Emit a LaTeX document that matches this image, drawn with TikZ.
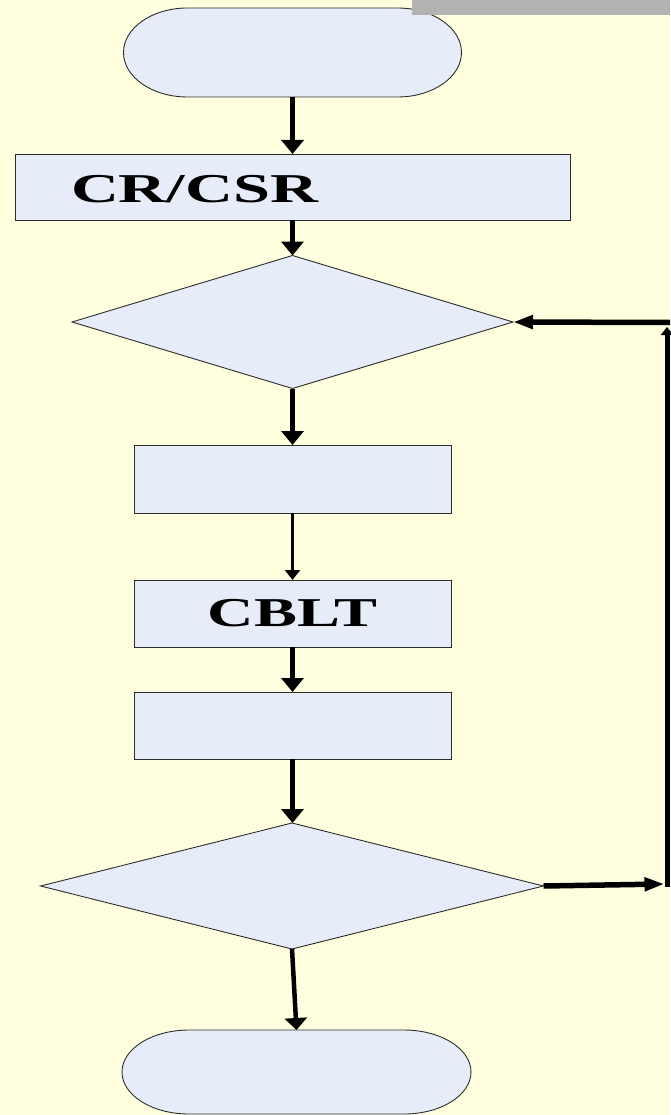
\documentclass[tikz,border=0pt]{standalone}
\usepackage{graphicx}
\usepackage{fontspec}
\setmainfont{Liberation Serif}
\usetikzlibrary{arrows.meta,shapes.geometric}
\definecolor{bgyellow}{RGB}{255,255,224}
\definecolor{boxfill}{RGB}{230,237,248}
\definecolor{edgegray}{RGB}{45,45,45}
\definecolor{tabgray}{RGB}{178,178,178}
\begin{document}
\begin{tikzpicture}[x=1pt,y=-1pt,
  procbox/.style={rectangle,draw=edgegray,fill=boxfill,line width=0.9pt,inner sep=0pt,outer sep=0pt},
  decision/.style={diamond,draw=edgegray,fill=boxfill,line width=0.9pt,inner sep=0pt,outer sep=0pt},
  termbox/.style={rectangle,draw=none,inner sep=0pt,outer sep=0pt},
  termline/.style={draw=edgegray,fill=boxfill,line width=0.9pt},
  bigtext/.style={font=\bfseries\fontsize{41}{41}\selectfont,inner sep=0pt,outer sep=0pt},
  flowarrow/.style={line width=5.5pt,-{Triangle[length=14pt,width=22pt]}},
  thinarrow/.style={line width=2.2pt,-{Triangle[length=10pt,width=15pt]}},
  looparrow/.style={line width=5.5pt,-{Triangle[length=20pt,width=13pt]}},
  cornerarrow/.style={line width=5pt,-{Triangle[length=8pt,width=12pt]}}
]
\useasboundingbox (0,0) rectangle (670,1115);
\fill[bgyellow] (0,0) rectangle (670,1115);

% start terminator
\node[termbox,minimum width=338pt,minimum height=89pt] (start) at (292.5,52.5) {};
\draw[termline] ([xshift=64pt]start.north west) -- ([xshift=-64pt]start.north east)
  arc[start angle=90,end angle=-90,x radius=64pt,y radius=44.5pt]
  -- ([xshift=64pt]start.south west)
  arc[start angle=270,end angle=90,x radius=64pt,y radius=44.5pt] -- cycle;

% process boxes
\node[procbox,minimum width=555pt,minimum height=66pt] (csr) at (292.5,187) {};
\node[bigtext,anchor=base west] (csrtext) at (71,203) {\scalebox{1.62}[1]{CR/CSR}};
\node[decision,minimum width=441pt,minimum height=133pt] (d1) at (292.5,322) {};
\node[procbox,minimum width=317pt,minimum height=68pt] (r2) at (292.5,479) {};
\node[procbox,bigtext,minimum width=317pt,minimum height=67pt] (cblt) at (292.5,613.5) {\scalebox{1.57}[1]{CBLT}};
\node[procbox,minimum width=317pt,minimum height=67pt] (r4) at (292.5,725.5) {};
\node[decision,minimum width=503pt,minimum height=126pt] (d2) at (292,886) {};

% end terminator
\node[termbox,minimum width=349pt,minimum height=84pt] (stop) at (296.5,1072) {};
\draw[termline] ([xshift=67pt]stop.north west) -- ([xshift=-67pt]stop.north east)
  arc[start angle=90,end angle=-90,x radius=67pt,y radius=42pt]
  -- ([xshift=67pt]stop.south west)
  arc[start angle=270,end angle=90,x radius=67pt,y radius=42pt] -- cycle;

% top-right grey tab
\fill[tabgray] (412,0) rectangle (670,14.7);

% connectors
\draw[flowarrow] (start.south) -- (csr.north);
\draw[flowarrow] (csr.south) -- (d1.north);
\draw[flowarrow] (d1.south) -- (r2.north);
\draw[thinarrow] (r2.south) -- (cblt.north);
\draw[flowarrow] (cblt.south) -- (r4.north);
\draw[flowarrow] (r4.south) -- (r4.south |- d2.north);
\draw[line width=4.5pt,-{Triangle[length=12pt,width=22pt]}] (d2.south) -- (stop.north);

% loop back
\coordinate (br) at (667,884);
\coordinate (tr) at (667,322.5);
\draw[looparrow] (d2.east) -- ([xshift=-2.5pt]br);
\draw[cornerarrow] ([yshift=-2.5pt]br) -- ([yshift=-4.5pt]tr);
\draw[looparrow] ([xshift=3pt]tr) -- (d1.east);
\end{tikzpicture}
\end{document}
